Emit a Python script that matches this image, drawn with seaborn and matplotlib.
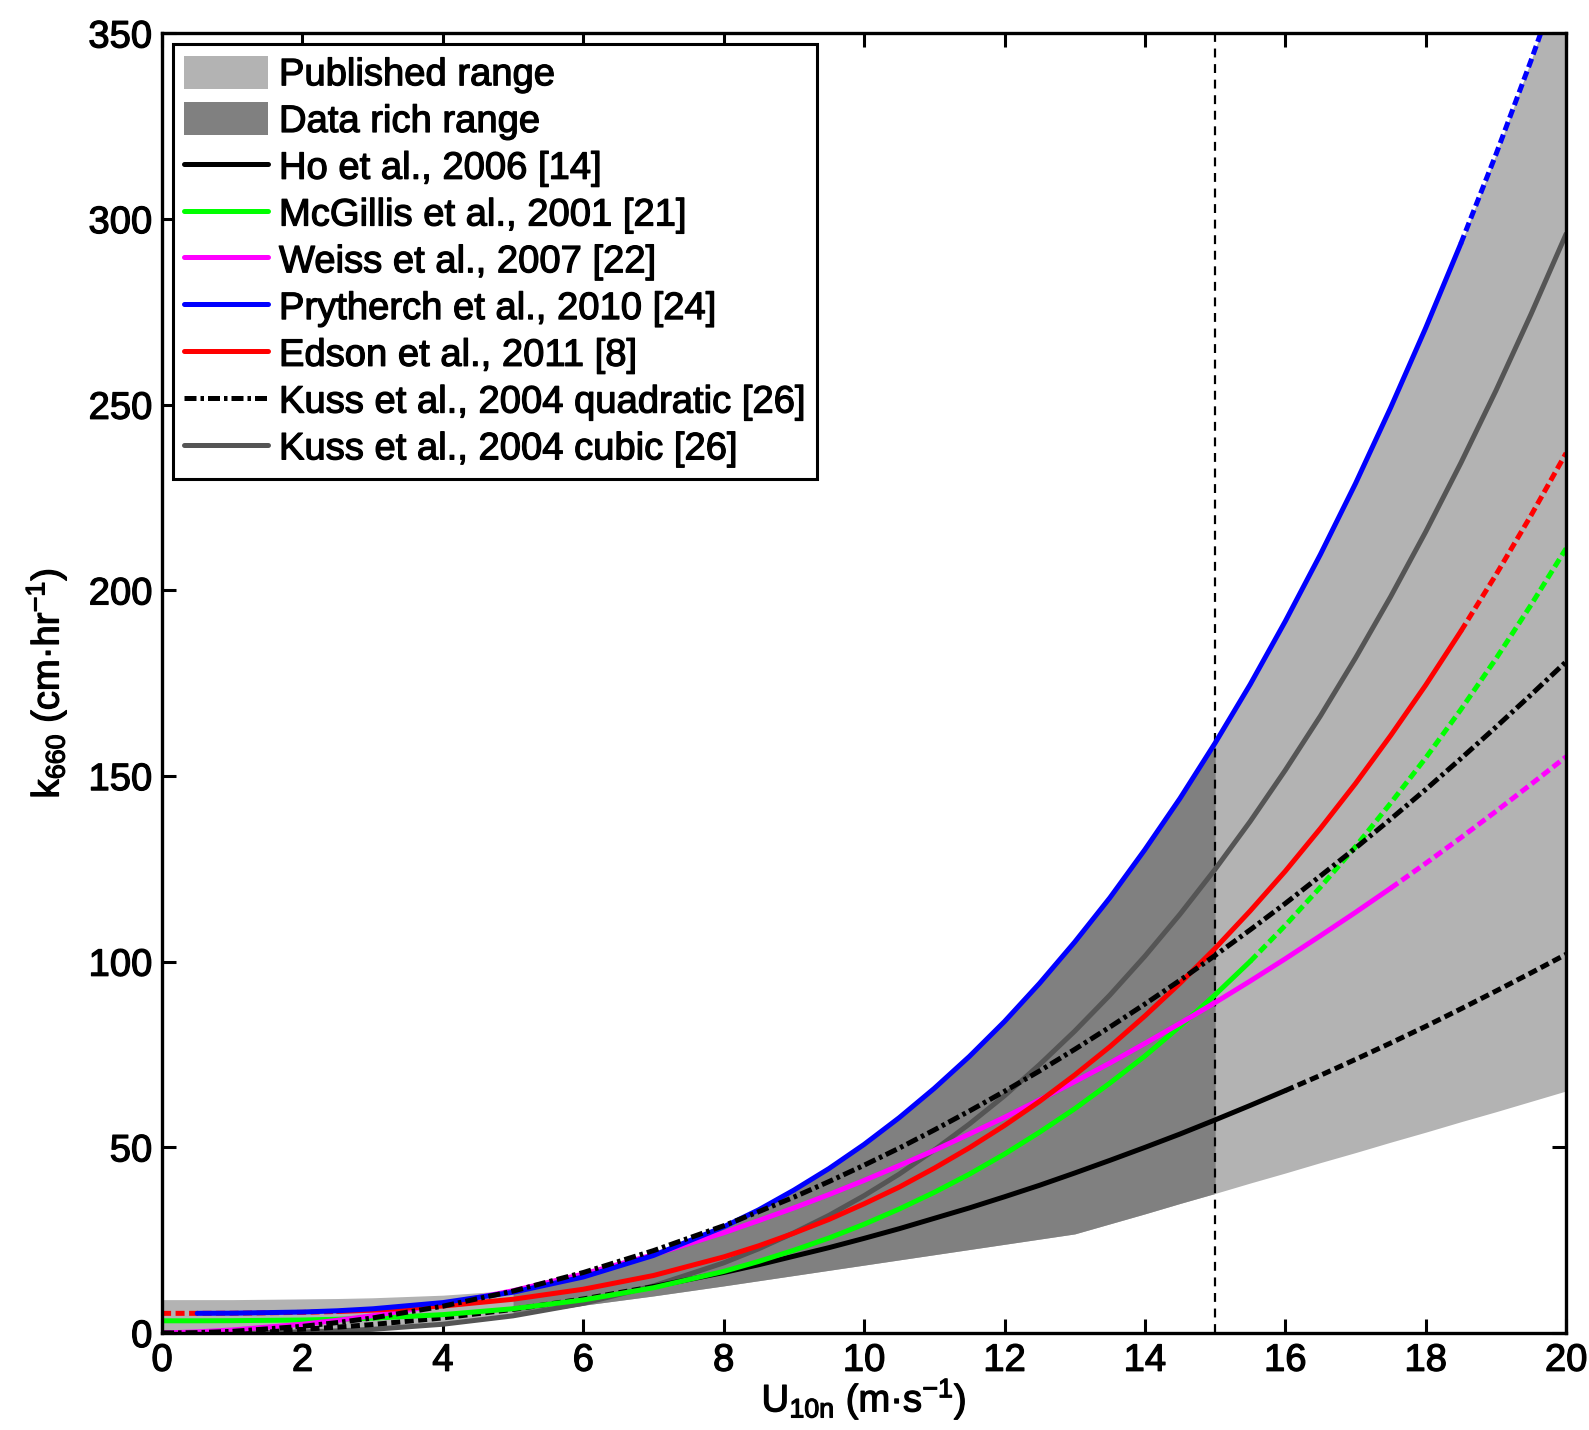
"""
Gas transfer velocity k660 vs. wind speed U10n
Published parameterisations with published / data-rich ranges
"""

import matplotlib
matplotlib.use("Agg")
import matplotlib.pyplot as plt
import matplotlib.patheffects as pe
from matplotlib.patches import Patch
from matplotlib.lines import Line2D
import seaborn as sns

# wind speed grid (m/s)
u10 = [0, 0.5, 1, 2, 2.5, 3, 4, 5, 6, 7, 8, 8.5, 9, 9.5, 10, 10.5, 11, 11.5,
       12, 12.5, 13, 13.5, 14, 14.5, 15, 15.5, 16, 16.5, 17, 17.5, 18, 18.5,
       19, 19.5, 20]

# k660 (cm/hr) values at the grid points above
ho_2006 = [0, 0.06, 0.26, 1.02, 1.59, 2.3, 4.08, 6.38, 9.18, 12.5, 16.3, 18.4,
           20.7, 23.0, 25.5, 28.1, 30.9, 33.7, 36.7, 39.8, 43.1, 46.5, 50.0,
           53.6, 57.4, 61.3, 65.3, 69.4, 73.7, 78.1, 82.6, 87.3, 92.1, 97.0,
           102.0]
mcgillis_2001 = [3.3, 3.3, 3.33, 3.51, 3.71, 4.0, 4.96, 6.55, 8.92, 12.2, 16.6,
                 19.3, 22.3, 25.6, 29.3, 33.4, 37.9, 42.8, 48.2, 54.1, 60.4,
                 67.3, 74.6, 82.6, 91.1, 100.1, 109.8, 120.1, 131.0, 142.7,
                 154.9, 167.9, 181.6, 196.1, 211.3]
weiss_2007 = [0, 0.32, 0.83, 2.38, 3.43, 4.67, 7.68, 11.4, 15.9, 21.1, 27.0,
              30.3, 33.7, 37.3, 41.1, 45.1, 49.2, 53.6, 58.1, 62.8, 67.7, 72.7,
              78.0, 83.4, 89.0, 94.8, 100.8, 107.0, 113.3, 119.8, 126.5, 133.4,
              140.5, 147.8, 155.2]
prytherch_2010 = [None, 5.31, 5.35, 5.66, 6.0, 6.53, 8.2, 11.0, 15.1, 20.9,
                  28.6, 33.2, 38.5, 44.3, 50.8, 58.0, 65.9, 74.5, 83.9, 94.2,
                  105.3, 117.2, 130.2, 144.0, 158.9, 174.7, 191.7, 209.7,
                  228.8, 249.2, 270.7, 293.4, 317.4, 342.7, 369.3]
edson_2011 = [5.3, 5.31, 5.34, 5.57, 5.81, 6.16, 7.28, 9.1, 11.8, 15.5, 20.5,
              23.5, 26.9, 30.6, 34.8, 39.3, 44.4, 49.9, 55.9, 62.4, 69.5, 77.1,
              85.4, 94.2, 103.6, 113.7, 124.4, 135.9, 148.0, 160.9, 174.5,
              189.0, 204.2, 220.2, 237.0]
kuss_quad = [0, 0.11, 0.45, 1.81, 2.83, 4.07, 7.23, 11.3, 16.3, 22.2, 28.9,
             32.7, 36.6, 40.8, 45.2, 49.8, 54.7, 59.8, 65.1, 70.6, 76.4, 82.4,
             88.6, 95.0, 101.7, 108.6, 115.7, 123.1, 130.6, 138.4, 146.4, 154.7,
             163.2, 171.9, 180.8]
kuss_cubic = [0, 0.005, 0.04, 0.3, 0.58, 1.0, 2.37, 4.63, 7.99, 12.7, 18.9,
              22.7, 27.0, 31.7, 37.0, 42.8, 49.3, 56.3, 63.9, 72.3, 81.3, 91.0,
              101.5, 112.8, 124.9, 137.8, 151.6, 166.2, 181.8, 198.3, 215.8,
              234.3, 253.8, 274.4, 296.0]

# envelope of the published range
range_low = [0, 0, 0.04, 0.3, 0.58, 1.0, 2.4, 4.6, 7.5, 10.0, 12.7, 14.1, 15.5,
             16.9, 18.3, 19.7, 21.1, 22.5, 23.9, 25.3, 26.7, 29.4, 32.1, 34.9,
             37.6, 40.4, 43.1, 45.9, 48.6, 51.4, 54.1, 56.9, 59.6, 62.4, 65.2]
range_high = [9.0, 9.0, 9.0, 9.2, 9.3, 9.5, 10.2, 11.5, 15.1, 20.9, 28.6, 33.2,
              38.5, 44.3, 50.8, 58.0, 65.9, 74.5, 83.9, 94.2, 105.3, 117.2,
              130.2, 144.0, 158.9, 174.7, 191.7, 209.7, 228.8, 249.2, 270.7,
              293.4, 317.4, 342.7, 369.3]
data_rich = (5, 15)
u_limit = 15

# (label, values, colour, solid range)
curves = [
    ('Kuss et al., 2004 cubic [26]', kuss_cubic, '#555555', (0, 20)),
    ('Ho et al., 2006 [14]', ho_2006, 'black', (7, 16)),
    ('McGillis et al., 2001 [21]', mcgillis_2001, '#00ff00', (0, 15.5)),
    ('Weiss et al., 2007 [22]', weiss_2007, '#ff00ff', (0, 17.5)),
    ('Edson et al., 2011 [8]', edson_2011, '#ff0000', (2.5, 18.5)),
    ('Prytherch et al., 2010 [24]', prytherch_2010, '#0000ff', (0.5, 18.5)),
]
legend_order = ['Ho et al., 2006 [14]', 'McGillis et al., 2001 [21]',
                'Weiss et al., 2007 [22]', 'Prytherch et al., 2010 [24]',
                'Edson et al., 2011 [8]']

sns.set_theme(style='ticks')
plt.rcParams['font.family'] = ['Liberation Sans', 'DejaVu Sans']
plt.rcParams['mathtext.default'] = 'regular'
plt.rcParams['font.size'] = 27.5
for key in ['text.color', 'axes.labelcolor', 'xtick.color', 'ytick.color']:
    plt.rcParams[key] = 'black'

FS = 27.5
heavy = [pe.withStroke(linewidth=0.9, foreground='black')]

fig = plt.figure(figsize=(15.89, 14.30), dpi=100)
ax = fig.add_axes([0.102, 0.0678, 0.8836, 0.9088])

LW = 3.6
DOT = (0, (1.8, 0.9))
DASHDOT = (0, (2.4, 0.8, 0.7, 0.8))


def segment(xs, ys, lo, hi):
    pts = [(x, y) for x, y in zip(xs, ys) if y is not None and lo <= x <= hi]
    return [p[0] for p in pts], [p[1] for p in pts]


# shaded ranges
ax.fill_between(u10, range_low, range_high, color='#b3b3b3', lw=0, zorder=1)
rx, rlo = segment(u10, range_low, *data_rich)
_, rhi = segment(u10, range_high, *data_rich)
ax.fill_between(rx, rlo, rhi, color='#808080', lw=0, zorder=1.1)

ax.axvline(u_limit, color='black', lw=1.6, linestyle=(0, (4, 3)), zorder=1.5)

for label, vals, col, (lo, hi) in curves:
    pieces = [(0, lo, DOT), (lo, hi, '-'), (hi, 20, DOT)]
    for a, b, ls in pieces:
        if b <= a:
            continue
        xs, ys = segment(u10, vals, a, b)
        if len(xs) < 2:
            continue
        sns.lineplot(x=xs, y=ys, ax=ax, color=col, linewidth=LW,
                     linestyle=ls, sort=False, zorder=3)

sns.lineplot(x=u10, y=kuss_quad, ax=ax, color='black', linewidth=LW,
             linestyle=DASHDOT, sort=False, zorder=4)

ax.set_xlim(0, 20)
ax.set_ylim(0, 350)
ax.set_xticks(range(0, 21, 2))
ax.set_yticks(range(0, 351, 50))
ax.tick_params(direction='in', length=10, width=2.2, top=True, right=True,
               labelsize=FS, pad=7, colors='black')
for sp in ax.spines.values():
    sp.set_visible(True)
    sp.set_linewidth(2.4)
    sp.set_color('black')
    sp.set_zorder(5)

ax.set_xlabel('U$_{10n}$ (m·s$^{-1}$)', fontsize=FS, labelpad=-2)
ax.set_ylabel('k$_{660}$ (cm·hr$^{-1}$)', fontsize=FS, labelpad=14)

colours = dict((c[0], c[2]) for c in curves)
handles = [Patch(facecolor='#b3b3b3', edgecolor='none', label='Published range'),
           Patch(facecolor='#808080', edgecolor='none', label='Data rich range')]
for name in legend_order:
    handles.append(Line2D([], [], color=colours[name], lw=LW, label=name))
handles.append(Line2D([], [], color='black', lw=LW, linestyle=DASHDOT,
                      label='Kuss et al., 2004 quadratic [26]'))
handles.append(Line2D([], [], color='#555555', lw=LW,
                      label='Kuss et al., 2004 cubic [26]'))

leg = ax.legend(handles=handles, loc='upper left', fontsize=FS,
                frameon=True, fancybox=False, framealpha=1,
                edgecolor='black', borderaxespad=0.28, borderpad=0.3,
                handlelength=2.2, handleheight=0.95, handletextpad=0.28,
                labelspacing=0.24, labelcolor='black')
leg.get_frame().set_linewidth(2.2)
leg.set_zorder(6)

texts = (leg.get_texts() + ax.get_xticklabels() + ax.get_yticklabels()
         + [ax.xaxis.label, ax.yaxis.label])
for t in texts:
    t.set_path_effects(heavy)

fig.savefig('out.png', dpi=100)
